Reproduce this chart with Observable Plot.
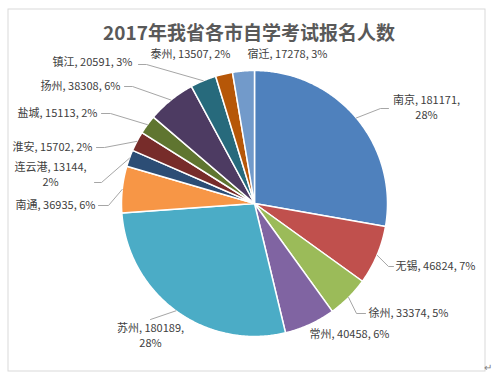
<!DOCTYPE html>
<html><head><meta charset="utf-8">
<script src="https://cdn.jsdelivr.net/npm/d3@7"></script>
<script src="https://cdn.jsdelivr.net/npm/@observablehq/plot@0.6"></script>
<style>body{margin:0;background:#fff} svg{display:block}</style>
</head><body><div id="chart"></div>
<script>
const title = "2017年我省各市自学考试报名人数";
const cities = ["南京","无锡","徐州","常州","苏州","南通","连云港","淮安","盐城","扬州","镇江","泰州","宿迁"];
const values = [181171,46824,33374,40458,180189,36935,13144,15702,15113,38308,20591,13507,17278];
const colors = ["#4F81BD","#C0504D","#9BBB59","#8064A2","#4BACC6","#F79646","#2C4D75","#772C2A","#5F7530","#4D3B62","#276A7C","#B65708","#729ACA"];
const breakAfterValue = ["南京","苏州","连云港"];

// layout (pixel space of the chart)
const cx = 254, cy = 203, R = 133;
const lineGap = 15;
const labelPos = [[426,107],[435,266],[408,313],[349,334],[150,335],[55,205],[50,174],[52,147],[57,113],[80,86],[92,62],[190,54],[287,54]];
const leaderPts = [
  [[380,108],[388,108]],
  [[388,266],[393,266]],
  [[356,313],[365,313]],
  null,
  [[150,319]],
  [[108,205],[98,205]],
  [[101,182],[94,182]],
  [[104,147],[96,147]],
  [[110,113],[101,113]],
  [[132,86],[124,86]],
  [[146,64],[138,64]],
  null,
  null
];

const total = d3.sum(values);
const arcs = d3.pie().sort(null).value(d => d)(values);
const pt = (a, r) => ({x: cx + r * Math.sin(a), y: cy - r * Math.cos(a)});

const slices = [];
arcs.forEach((a, i) => {
  const name = cities[i];
  slices.push({name, ...pt(0, 0)});
  const n = Math.max(2, Math.ceil((a.endAngle - a.startAngle) / (Math.PI / 360)));
  for (let k = 0; k <= n; k++) {
    const t = a.startAngle + (a.endAngle - a.startAngle) * k / n;
    slices.push({name, ...pt(t, R)});
  }
  slices.push({name, ...pt(0, 0)});
});

const leaders = [];
arcs.forEach((a, i) => {
  if (!leaderPts[i]) return;
  const mid = (a.startAngle + a.endAngle) / 2;
  leaders.push({name: cities[i], ...pt(mid, R)});
  leaderPts[i].forEach(([x, y]) => leaders.push({name: cities[i], x, y}));
});

const labels = [];
cities.forEach((c, i) => {
  const pct = Math.round(values[i] / total * 100) + "%";
  const [x, y] = labelPos[i];
  if (breakAfterValue.includes(c)) {
    labels.push({x, y: y - lineGap / 2, text: `${c}, ${values[i]},`});
    labels.push({x, y: y + lineGap / 2, text: pct});
  } else {
    labels.push({x, y, text: `${c}, ${values[i]}, ${pct}`});
  }
});

const chart = Plot.plot({
  width: 497, height: 378, margin: 0,
  style: {background: "#fff", fontFamily: "'Noto Sans CJK SC', sans-serif"},
  x: {domain: [0, 497], range: [0, 497], axis: null},
  y: {domain: [0, 378], range: [0, 378], axis: null},
  color: {domain: cities, range: colors},
  marks: [
    Plot.frame({stroke: "#d9d9d9", insetLeft: 7.5, insetTop: 8.5, insetRight: 12.5, insetBottom: 7.5}),
    Plot.line(slices, {x: "x", y: "y", z: "name", fill: "name", stroke: "white", strokeWidth: 1.5, strokeLinejoin: "round"}),
    Plot.line(leaders, {x: "x", y: "y", z: "name", stroke: "#a6a6a6", strokeWidth: 1}),
    Plot.text(labels, {x: "x", y: "y", text: "text", fontSize: 11, fill: "#404040", textAnchor: "middle"}),
    Plot.text([title], {frameAnchor: "top", dy: 33, fontSize: 19, fontWeight: "bold", fill: "#595959", lineAnchor: "middle"}),
    Plot.text(["↵"], {frameAnchor: "bottom-right", dx: -6, dy: -8, fontSize: 10, fill: "#808080"})
  ]
});
document.getElementById("chart").appendChild(chart);
</script>
</body></html>
